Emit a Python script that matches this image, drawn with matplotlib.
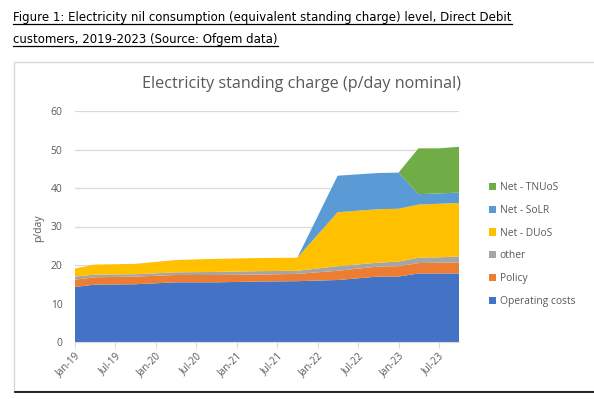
import matplotlib
matplotlib.use("Agg")
import matplotlib.pyplot as plt
import matplotlib.dates as mdates
from matplotlib.patches import Rectangle, Patch
from matplotlib.lines import Line2D
import numpy as np
import datetime as dt

# ---- data ----
dates = ["2019-01-01", "2019-04-01", "2019-10-01", "2020-04-01", "2020-10-01",
         "2021-04-01", "2021-10-01", "2022-04-01", "2022-10-01", "2023-01-01",
         "2023-04-01", "2023-07-01", "2023-10-01"]
operating_costs = [14.3, 14.9, 15.0, 15.5, 15.5, 15.7, 15.8, 16.1, 17.0, 17.0, 17.8, 17.8, 17.8]
policy = [1.9, 1.9, 2.0, 1.9, 1.9, 1.8, 1.9, 2.4, 2.6, 2.7, 2.7, 2.8, 2.8]
other = [0.8, 0.7, 0.6, 0.7, 0.8, 0.9, 0.8, 1.2, 1.0, 1.2, 1.4, 1.4, 1.6]
net_duos = [2.1, 2.6, 2.7, 3.2, 3.4, 3.4, 3.4, 14.0, 13.9, 13.7, 13.8, 13.9, 13.9]
net_solr = [0, 0, 0, 0, 0, 0, 0, 9.5, 9.4, 9.4, 2.7, 2.7, 2.7]
net_tnuos = [0, 0, 0, 0, 0, 0, 0, 0, 0, 0, 11.9, 11.7, 11.9]
series_names = ["Operating costs", "Policy", "other", "Net - DUoS", "Net - SoLR", "Net - TNUoS"]
colors = ["#4472C4", "#ED7D31", "#A5A5A5", "#FFC000", "#5B9BD5", "#70AD47"]
yticks = [0, 10, 20, 30, 40, 50, 60]
tick_dates = ["2019-01-01", "2019-07-01", "2020-01-01", "2020-07-01", "2021-01-01",
              "2021-07-01", "2022-01-01", "2022-07-01", "2023-01-01", "2023-07-01"]

W, H = 594, 399
fig = plt.figure(figsize=(W / 100, H / 100), dpi=100)
fig.patch.set_facecolor("white")

# heading
hfont = dict(family="DejaVu Sans", fontsize=8.5, color="black")
t1 = fig.text(13 / W, 1 - 18 / H, "Figure 1: Electricity nil consumption (equivalent standing charge) level, Direct Debit",
              va="center", ha="left", **hfont)
t2 = fig.text(13 / W, 1 - 40 / H, "customers, 2019-2023 (Source: Ofgem data)",
              va="center", ha="left", **hfont)
fig.canvas.draw()
r = fig.canvas.get_renderer()
for t in (t1, t2):
    bb = t.get_window_extent(r)
    yline = bb.y0 + 0.8
    fig.add_artist(Line2D([bb.x0 / W, bb.x1 / W], [yline / H, yline / H], color="black", lw=0.9,
                          transform=fig.transFigure))

# chart box
fig.add_artist(Rectangle((14 / W, 1 - 391 / H), (604 - 14) / W, (391 - 62) / H, transform=fig.transFigure,
                         facecolor="white", edgecolor="#D9D9D9", lw=1.0, zorder=0))
fig.add_artist(Line2D([15 / W, 1.0], [1 - 392 / H, 1 - 392 / H], color="black", lw=1.2,
                      transform=fig.transFigure))

# chart title
fig.text(301 / W, 1 - 84 / H, "Electricity standing charge (p/day nominal)", ha="center", va="center",
         fontsize=11.6, color="#595959", family="Open Sans")

ax = fig.add_axes([75 / W, 1 - 342 / H, (459 - 75) / W, (342 - 111) / H])
x = [dt.datetime.strptime(d, "%Y-%m-%d") for d in dates]
ys = [operating_costs, policy, other, net_duos, net_solr, net_tnuos]
polys = ax.stackplot(x, *ys, colors=colors, labels=series_names, lw=0)

ax.set_ylim(0, 60)
ax.set_xlim(x[0], x[-1])
ax.set_yticks(yticks)
ax.yaxis.grid(True, color="#D9D9D9", lw=0.9)
ax.set_axisbelow(True)
for s in ("top", "right", "left"):
    ax.spines[s].set_visible(False)
ax.spines["bottom"].set_color("#D9D9D9")
ax.tick_params(axis="y", length=0, labelsize=7.4, labelcolor="#595959", pad=9)
tx = [dt.datetime.strptime(d, "%Y-%m-%d") for d in tick_dates]
ax.set_xticks(tx)
ax.xaxis.set_major_formatter(mdates.DateFormatter("%b-%y"))
ax.tick_params(axis="x", length=4, color="#D9D9D9", labelsize=7.2, labelcolor="#595959", pad=2)
for lab in ax.get_xticklabels():
    lab.set_rotation(45)
    lab.set_ha("right")
    lab.set_rotation_mode("anchor")
for lab in ax.get_yticklabels():
    lab.set_family("Open Sans")
for lab in ax.get_xticklabels():
    lab.set_family("Open Sans")

fig.text(39 / W, 1 - 228 / H, "p/day", rotation=90, ha="center", va="center", fontsize=7.5,
         color="#595959", family="Open Sans")

handles = [Patch(facecolor=c, edgecolor="none") for c in colors]
leg = fig.legend(handles[::-1], series_names[::-1], loc="upper left",
                 bbox_to_anchor=(489 / W, 1 - 182 / H), frameon=False,
                 prop=dict(family="Open Sans", size=7.4), labelcolor="#595959",
                 handlelength=0.7, handleheight=0.7, handletextpad=0.35, labelspacing=1.15,
                 borderaxespad=0, borderpad=0)

fig.savefig("out.png", dpi=100)
